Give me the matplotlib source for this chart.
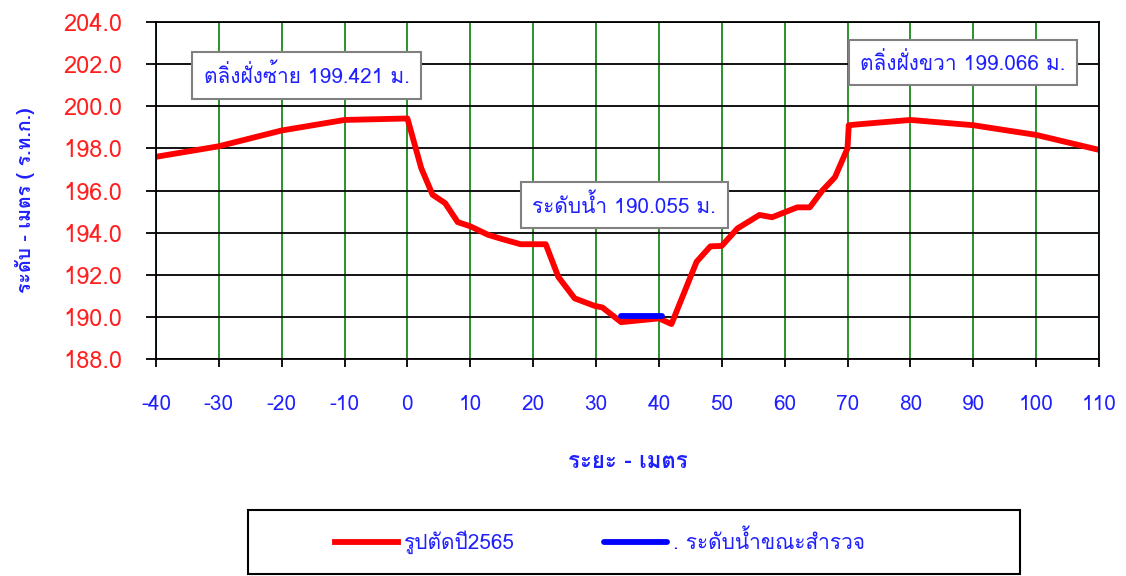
import matplotlib
matplotlib.use('Agg')
import matplotlib.pyplot as plt
import numpy as np
from matplotlib import font_manager
from matplotlib.ft2font import FT2Font
from matplotlib.patches import Rectangle

# find a font that has Thai glyphs
thai_font = None
for f in font_manager.fontManager.ttflist:
    try:
        if 0x0E01 in FT2Font(f.fname).get_charmap():
            thai_font = f.name
            break
    except Exception:
        pass
fams = ([thai_font] if thai_font else []) + ['DejaVu Sans']
plt.rcParams['font.family'] = fams
plt.rcParams['axes.unicode_minus'] = False

# cross section (distance m, level m)
dist = [-40, -30, -20, -10, 0, 2.2, 4, 6, 8, 10, 12.8, 15, 18, 22, 24, 26.6, 29.8, 31,
        34, 40, 42, 46, 48.2, 50, 52.5, 56, 58, 62, 64, 66, 68, 70, 70.2, 72, 80, 90, 100, 110]
level = [197.6, 198.1, 198.85, 199.35, 199.42, 197.06, 195.8, 195.4, 194.5, 194.3, 193.9, 193.7,
         193.45, 193.45, 191.9, 190.88, 190.52, 190.45, 189.75, 189.93, 189.66, 192.62, 193.35,
         193.37, 194.2, 194.84, 194.73, 195.2, 195.2, 196.0, 196.63, 198.0, 199.1, 199.15,
         199.35, 199.1, 198.64, 197.93]

# water level during survey
wl_dist = [34, 40.5]
wl_level = [190.055, 190.055]

xticks = list(range(-40, 111, 10))
yticks = list(np.arange(188, 204.1, 2))

blue = '#2020FF'
red = '#FF2020'

fig = plt.figure(figsize=(11.26, 5.76), dpi=100)
ax = fig.add_axes([0.1385, 0.3767, 0.8375, 0.5851])

ax.set_xlim(-40, 110)
ax.set_ylim(188, 204)
ax.set_xticks(xticks)
ax.set_yticks(yticks)
ax.set_yticklabels(['%.1f' % v for v in yticks])
ax.tick_params(axis='y', labelcolor=red, length=7.2, width=1.3, pad=17, labelsize=17)
ax.tick_params(axis='x', labelcolor=blue, length=5.8, width=1.3, pad=20, labelsize=15)
ax.yaxis.grid(True, color='black', lw=1.3)
ax.xaxis.grid(True, color='#1A8A1A', lw=1.3)
ax.set_axisbelow(True)
for s in ax.spines.values():
    s.set_linewidth(1.3)

ax.plot(dist, level, color='#FF0000', lw=4.2, label='รูปตัดปี2565', solid_joinstyle='round')
ax.plot(wl_dist, wl_level, color='#0000FF', lw=4.2, label='. ระดับน้ำขณะสำรวจ', solid_capstyle='round')

box = dict(boxstyle='square,pad=0.55', fc='white', ec='#808080', lw=1.5)
ax.text(-16.0, 201.45, 'ตลิ่งฝั่งซ้าย 199.421 ม.', color=blue, fontsize=15, ha='center', va='center', bbox=box)
ax.text(34.5, 195.3, 'ระดับน้ำ 190.055 ม.', color=blue, fontsize=15, ha='center', va='center', bbox=box)
ax.text(88.4, 202.07, 'ตลิ่งฝั่งขวา 199.066 ม.', color=blue, fontsize=15, ha='center', va='center', bbox=box)

ax.set_ylabel('ระดับ - เมตร ( ร.ท.ก.)', color=blue, fontsize=14, fontweight='bold')
ax.yaxis.set_label_coords(-0.128, 0.47)
ax.set_xlabel('ระยะ - เมตร', color=blue, fontsize=16, fontweight='bold')
ax.xaxis.set_label_coords(0.5, -0.275)

# legend frame
fig.patches.append(Rectangle((248/1126, 1-574/576), 772/1126, 64/576, transform=fig.transFigure,
                             fill=False, ec='black', lw=1.5))
leg = fig.legend(loc='center', bbox_to_anchor=(600/1126, 1-542/576), ncol=2, frameon=False,
                 fontsize=15, handlelength=3.0, handletextpad=0.3, columnspacing=4.3)
for t in leg.get_texts():
    t.set_color(blue)

fig.savefig('out.png', dpi=100)
